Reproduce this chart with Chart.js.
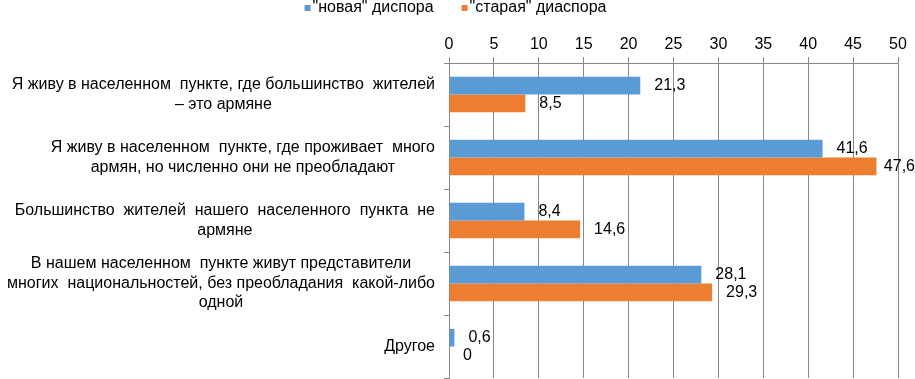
<!DOCTYPE html>
<html>
<head>
  <title>Диаспора</title>
  <script src="https://cdn.jsdelivr.net/npm/chart.js"></script>
  <style>
    html, body { margin: 0; padding: 0; background: #fff; }
    #wrap { width: 915px; height: 379px; }
  </style>
</head>
<body>
  <div id="wrap"><canvas id="chart"></canvas></div>
  <script>
    const categories = [
      ['Я живу в населенном  пункте, где большинство  жителей', '– это армяне'],
      ['Я живу в населенном  пункте, где проживает  много', 'армян, но численно они не преобладают'],
      ['Большинство  жителей  нашего  населенного  пункта  не', 'армяне'],
      ['В нашем населенном  пункте живут представители', 'многих  национальностей, без преобладания  какой-либо', 'одной'],
      ['Другое']
    ];
    const newDiaspora = [21.3, 41.6, 8.4, 28.1, 0.6];
    const oldDiaspora = [8.5, 47.6, 14.6, 29.3, 0];
    const seriesNames = ['"новая" диспора', '"старая" диаспора'];
    const xTicks = [0, 5, 10, 15, 20, 25, 30, 35, 40, 45, 50];

    const FONT = '"Liberation Sans", Arial, sans-serif';
    const gridColor = '#878787';

    // category labels, each centered on its own widest line
    const yLabelPlugin = {
      id: 'yLabels',
      afterDraw(chart) {
        const ctx = chart.ctx;
        const yScale = chart.scales.y;
        const right = yScale.right - 14;
        ctx.save();
        ctx.font = '16px ' + FONT;
        ctx.fillStyle = '#000';
        ctx.textAlign = 'center';
        ctx.textBaseline = 'middle';
        const lineH = 19.5;
        chart.data.labels.forEach((lines, i) => {
          const yPix = yScale.getPixelForTick(i);
          const maxW = Math.max(...lines.map(l => ctx.measureText(l).width));
          const cx = right - maxW / 2;
          const y0 = yPix - (lines.length - 1) * lineH / 2;
          lines.forEach((l, j) => ctx.fillText(l, cx, y0 + j * lineH));
        });
        ctx.restore();
      }
    };

    // value labels at bar ends
    const valueLabelPlugin = {
      id: 'valueLabels',
      afterDatasetsDraw(chart) {
        const ctx = chart.ctx;
        ctx.save();
        ctx.font = '16px ' + FONT;
        ctx.fillStyle = '#000';
        ctx.textAlign = 'left';
        ctx.textBaseline = 'middle';
        chart.data.datasets.forEach((ds, di) => {
          chart.getDatasetMeta(di).data.forEach((bar, i) => {
            const txt = String(ds.data[i]).replace('.', ',');
            const w = ctx.measureText(txt).width;
            const x = Math.min(bar.x + 14, chart.width - w);
            ctx.fillText(txt, x, bar.y);
          });
        });
        ctx.restore();
      }
    };

    // legend on top
    const legendPlugin = {
      id: 'topLegend',
      afterDraw(chart) {
        const ctx = chart.ctx;
        ctx.save();
        ctx.font = '16px ' + FONT;
        ctx.textBaseline = 'middle';
        ctx.textAlign = 'left';
        const box = 6, gapText = 2, gapItem = 28;
        const items = chart.data.datasets.map(ds => ({
          text: ds.label, color: ds.backgroundColor, w: box + gapText + ctx.measureText(ds.label).width
        }));
        const total = items.reduce((s, it) => s + it.w, 0) + gapItem * (items.length - 1);
        let x = chart.width / 2 - total / 2 - 2;
        const y = 8;
        items.forEach(it => {
          ctx.fillStyle = it.color;
          ctx.fillRect(x, y - box / 2, box, box);
          ctx.fillStyle = '#000';
          ctx.fillText(it.text, x + box + gapText, y);
          x += it.w + gapItem;
        });
        ctx.restore();
      }
    };

    new Chart(document.getElementById('chart'), {
      type: 'bar',
      data: {
        labels: categories,
        datasets: [
          { label: seriesNames[0], data: newDiaspora, backgroundColor: '#5B9BD5' },
          { label: seriesNames[1], data: oldDiaspora, backgroundColor: '#ED7D31' }
        ]
      },
      options: {
        indexAxis: 'y',
        responsive: true,
        maintainAspectRatio: false,
        animation: false,
        layout: { padding: { top: 0, right: 17, bottom: 1, left: 0 } },
        datasets: { bar: { categoryPercentage: 0.56, barPercentage: 1 } },
        plugins: {
          legend: { display: false },
          tooltip: { enabled: false }
        },
        scales: {
          x: {
            position: 'top',
            min: 0,
            max: 50,
            afterBuildTicks(scale) { scale.ticks = xTicks.map(v => ({ value: v })); },
            afterFit(scale) { scale.height = 63; },
            ticks: { font: { family: FONT, size: 16 }, color: '#000', padding: 3 },
            grid: { color: gridColor, tickLength: 6 },
            border: { color: gridColor }
          },
          y: {
            afterFit(scale) { scale.width = 449; },
            ticks: { display: false },
            grid: { drawOnChartArea: false, color: gridColor, tickLength: 5, offset: true },
            border: { color: gridColor }
          }
        }
      },
      plugins: [yLabelPlugin, valueLabelPlugin, legendPlugin]
    });
  </script>
</body>
</html>
